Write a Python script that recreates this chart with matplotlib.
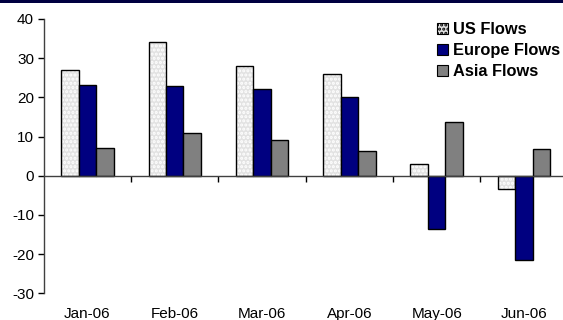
import matplotlib
matplotlib.use("Agg")
import matplotlib.pyplot as plt
import numpy as np
from matplotlib.patches import Rectangle

# data
months = ["Jan-06", "Feb-06", "Mar-06", "Apr-06", "May-06", "Jun-06"]
us_flows = [27, 34, 28, 26, 3, -3.5]
europe_flows = [23.2, 23, 22, 20, -13.7, -21.6]
asia_flows = [7, 11, 9, 6.2, 13.6, 6.9]

plt.rcParams['font.family'] = ['Liberation Sans', 'DejaVu Sans']
plt.rcParams['axes.unicode_minus'] = False
plt.rcParams['hatch.linewidth'] = 1.5

fig = plt.figure(figsize=(5.63, 3.20), dpi=100)
# navy strip along the top edge
fig.patches.append(Rectangle((0, 0.99), 1, 0.01, transform=fig.transFigure,
                             facecolor='#000040', edgecolor='none'))

ax = fig.add_axes([43.7 / 563, 26.7 / 320, 524 / 563, 274.4 / 320])

x = np.arange(len(months))
w = 0.2

# US bars: light grey fill with white dots, then outline on top
ax.bar(x - w, us_flows, w, color='#e2e2e2', hatch='....', edgecolor='white', linewidth=0)
ax.bar(x - w, us_flows, w, color='none', edgecolor='black', linewidth=1.0)
ax.bar(x, europe_flows, w, color='#000080', edgecolor='black', linewidth=1.0)
ax.bar(x + w, asia_flows, w, color='#808080', edgecolor='black', linewidth=1.0)

ax.set_xlim(-0.5, 5.5)
ax.set_ylim(-30, 40)
ax.set_yticks([-30, -20, -10, 0, 10, 20, 30, 40])
ax.tick_params(axis='y', direction='out', length=4, width=1, pad=3, labelsize=11, colors='black')

ax.spines['top'].set_visible(False)
ax.spines['right'].set_visible(False)
ax.spines['bottom'].set_position(('data', 0))
ax.spines['left'].set_linewidth(1)
ax.spines['bottom'].set_linewidth(1)
ax.spines['left'].set_color('#404040')
ax.spines['bottom'].set_color('#404040')

ax.set_xticks(np.arange(0.5, 5.5, 1.0))
ax.tick_params(axis='x', direction='out', length=4, width=1, labelbottom=False)

for i, m in enumerate(months):
    ax.text(i, -0.074, m, transform=ax.get_xaxis_transform(), ha='center', va='center',
            fontsize=11, clip_on=False)

# legend
handles = [
    Rectangle((0, 0), 1, 1, facecolor='#e2e2e2', hatch='....', edgecolor='black', linewidth=0.8),
    Rectangle((0, 0), 1, 1, facecolor='#000080', edgecolor='black', linewidth=0.8),
    Rectangle((0, 0), 1, 1, facecolor='#808080', edgecolor='black', linewidth=0.8),
]
fig.legend(handles, ["US Flows", "Europe Flows", "Asia Flows"], loc='upper left',
           bbox_to_anchor=(437 / 563, 1 - 22 / 320), frameon=False,
           prop={'weight': 'bold', 'size': 11.8}, handlelength=0.7, handleheight=0.7,
           handletextpad=0.3, labelspacing=0.38, borderpad=0, borderaxespad=0)

fig.savefig("out.png", dpi=100)
